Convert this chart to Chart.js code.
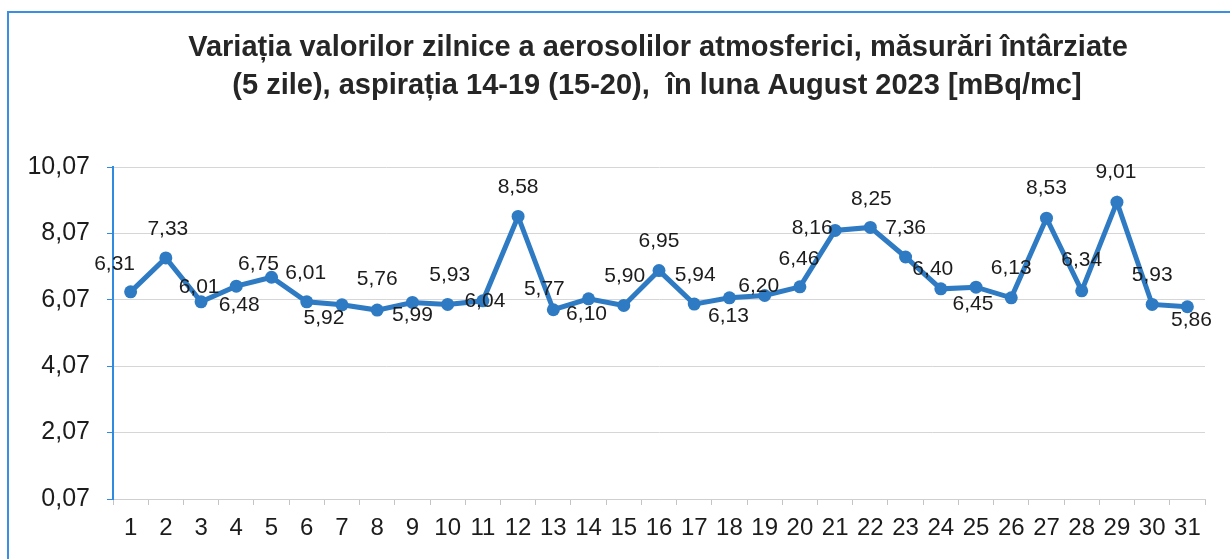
<!DOCTYPE html>
<html>
<head>
<meta charset="utf-8">
<script src="https://cdn.jsdelivr.net/npm/chart.js@4.4.0/dist/chart.umd.min.js"></script>
<style>
  html, body { margin: 0; padding: 0; background: #fff; overflow: hidden; }
  #wrap { position: relative; width: 1230px; height: 559px; }
  #frame {
    position: absolute; left: 7px; top: 11px; width: 1260px; height: 600px;
    border-left: 2px solid #3b8fe3; border-top: 2px solid #3b8fe3;
  }
  canvas { position: absolute; left: 0; top: 0; }
</style>
</head>
<body>
<div id="wrap">
  <div id="frame"></div>
  <canvas id="chart" width="1230" height="559"></canvas>
</div>
<script>
// ========== DATA ==========
const days = [
  "1", "2", "3", "4", "5", "6", "7", "8", "9", "10", "11", "12", "13", "14", "15", "16",
  "17", "18", "19", "20", "21", "22", "23", "24", "25", "26", "27", "28", "29", "30", "31",
];
const values = [
  6.31, 7.33, 6.01, 6.48, 6.75, 6.01, 5.92, 5.76, 5.99, 5.93, 6.04, 8.58, 5.77, 6.10, 5.90, 6.95,
  5.94, 6.13, 6.20, 6.46, 8.16, 8.25, 7.36, 6.40, 6.45, 6.13, 8.53, 6.34, 9.01, 5.93, 5.86,
];
const yTicks = [0.07, 2.07, 4.07, 6.07, 8.07, 10.07];
const titleLines = [
  "Variația valorilor zilnice a aerosolilor atmosferici, măsurări întârziate",
  "(5 zile), aspirația 14-19 (15-20),  în luna August 2023 [mBq/mc]",
];

// where each value label sits relative to its point, [dx, dy] in px
const labelOffsets = [
  [-16, -28], [2, -29], [-2, -15], [3, 19], [-13, -13], [-1, -29], [-18, 13], [0, -31],
  [0, 13], [2, -29], [2, 0], [0, -29], [-9, -21], [-2, 15], [1, -29], [0, -29],
  [1, -29], [-1, 18], [-6, -9], [-1, -28], [-23, -2], [1, -28], [0, -29], [-8, -20],
  [-3, 17], [0, -30], [0, -30], [0, -31], [-1, -30], [0, -29], [4, 13],
];

const FONT = "'Liberation Sans', Arial, sans-serif";
const TEXT = "#1c1c1c";
const LINE = "#2e7bc4";
const AXIS_BLUE = "#2f8ae0";

const fmt = (v) => v.toFixed(2).replace(".", ",");

// title drawn by hand so it can sit off-centre like the original
const titlePlugin = {
  id: "titleLines",
  afterDraw(chart) {
    const ctx = chart.ctx;
    ctx.save();
    ctx.font = "bold 29px " + FONT;
    ctx.fillStyle = "#262626";
    ctx.textAlign = "center";
    ctx.textBaseline = "middle";
    ctx.fillText(titleLines[0], 658, 48);
    ctx.fillText(titleLines[1], 657, 86);
    ctx.restore();
  },
};

const valueLabels = {
  id: "valueLabels",
  afterDatasetsDraw(chart) {
    const ctx = chart.ctx;
    const meta = chart.getDatasetMeta(0);
    ctx.save();
    ctx.font = "21px " + FONT;
    ctx.fillStyle = TEXT;
    ctx.textAlign = "center";
    ctx.textBaseline = "middle";
    meta.data.forEach((pt, i) => {
      const [dx, dy] = labelOffsets[i];
      ctx.fillText(fmt(values[i]), pt.x + dx, pt.y + dy);
    });
    ctx.restore();
  },
};

new Chart(document.getElementById("chart"), {
  type: "line",
  data: {
    labels: days,
    datasets: [
      {
        data: values,
        borderColor: LINE,
        backgroundColor: LINE,
        borderWidth: 5,
        pointRadius: 6.5,
        pointBackgroundColor: LINE,
        pointBorderColor: LINE,
        pointBorderWidth: 0,
        tension: 0,
      },
    ],
  },
  options: {
    responsive: false,
    animation: false,
    devicePixelRatio: 1,
    layout: { padding: { top: 167, right: 25, bottom: 0, left: 0 } },
    plugins: {
      legend: { display: false },
      tooltip: { enabled: false },
    },
    scales: {
      x: {
        offset: true,
        afterFit: (scale) => { scale.height = 60; },
        grid: {
          offset: true,
          drawOnChartArea: false,
          tickLength: 6,
          color: "#c4c4c4",
        },
        border: { color: "#cfcfcf", width: 1 },
        ticks: {
          font: { family: FONT, size: 24 },
          color: TEXT,
          padding: 9,
          maxRotation: 0,
          autoSkip: false,
        },
      },
      y: {
        min: 0.07,
        max: 10.07,
        afterFit: (scale) => { scale.width = 113; },
        afterBuildTicks: (scale) => {
          scale.ticks = yTicks.map((v) => ({ value: v }));
        },
        grid: {
          color: "#d6d6d6",
          tickColor: AXIS_BLUE,
          tickLength: 6,
        },
        border: { color: AXIS_BLUE, width: 2 },
        ticks: {
          font: { family: FONT, size: 25 },
          color: TEXT,
          padding: 17,
          callback: (v) => fmt(v),
        },
      },
    },
  },
  plugins: [titlePlugin, valueLabels],
});
</script>
</body>
</html>
